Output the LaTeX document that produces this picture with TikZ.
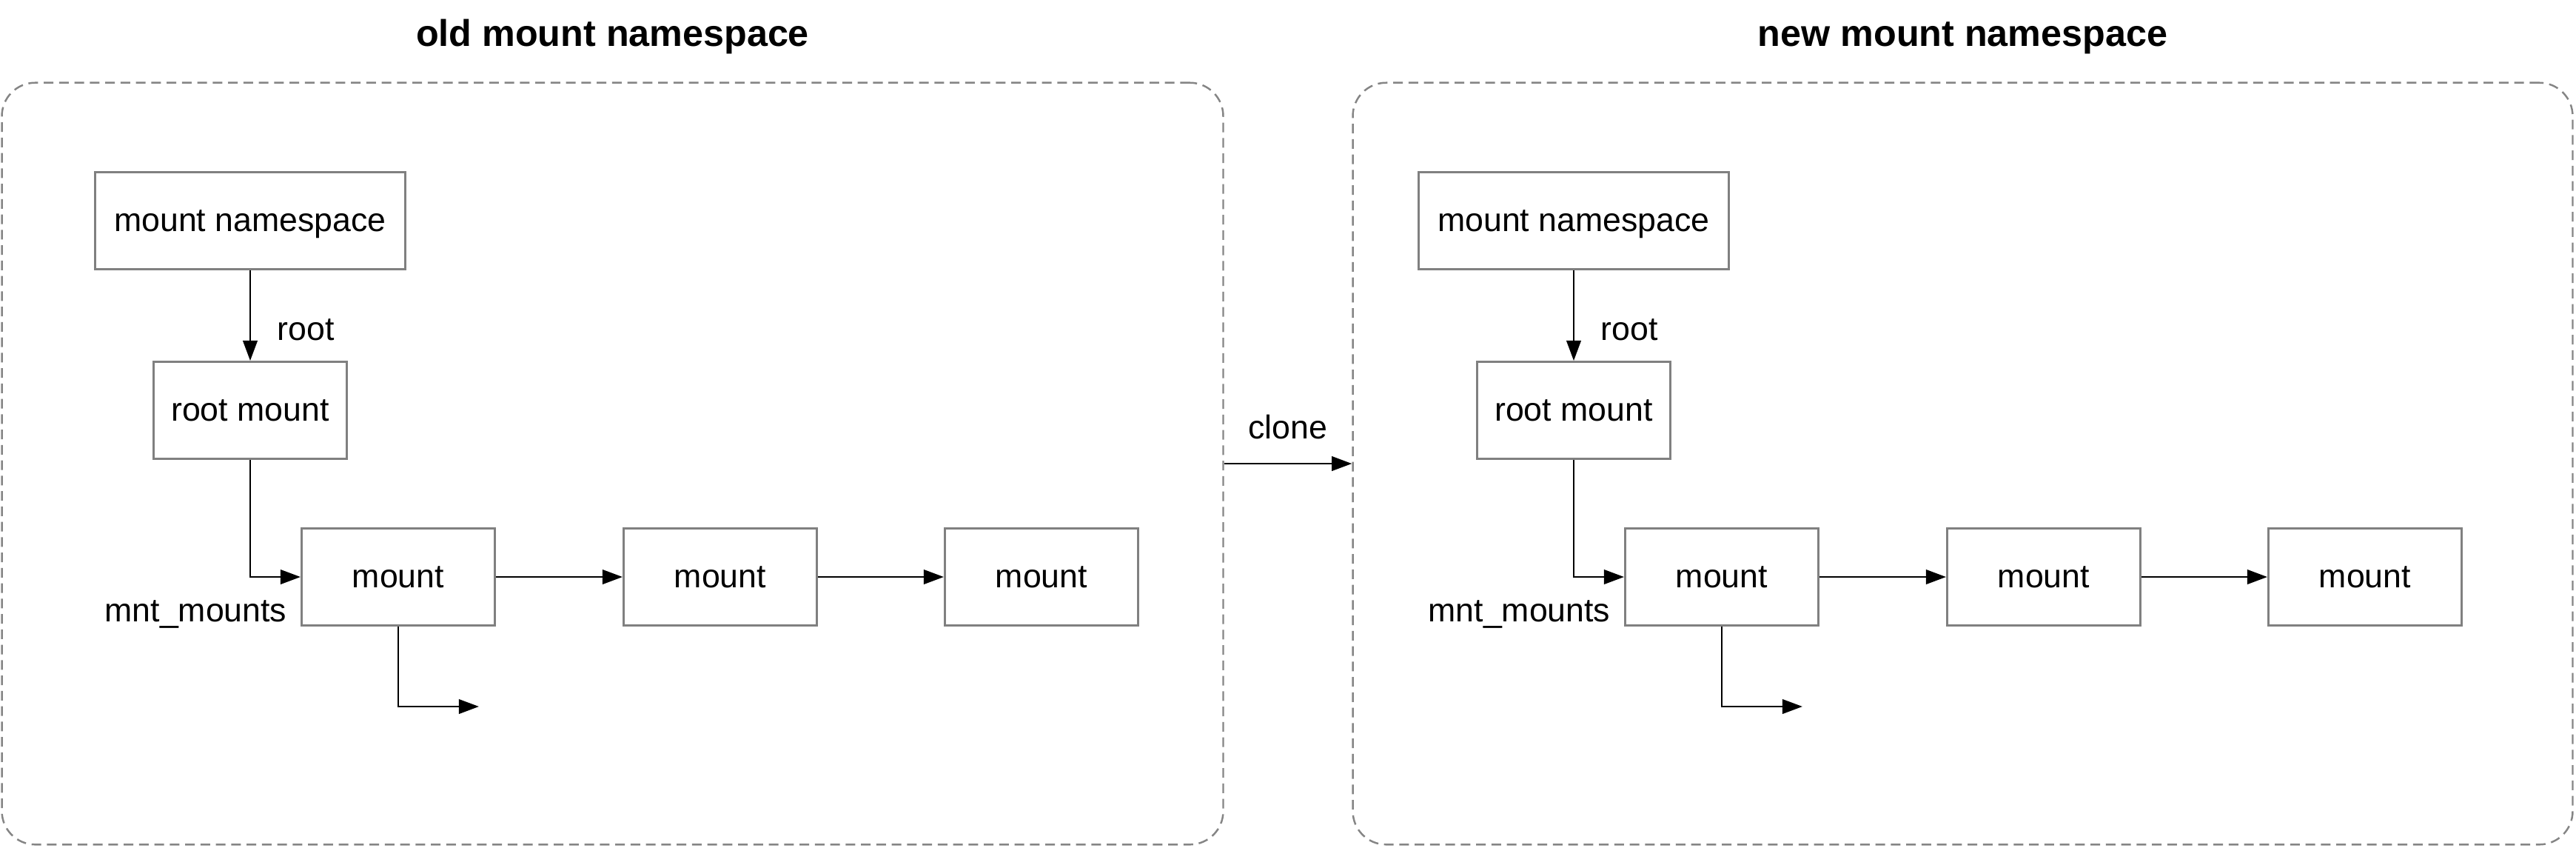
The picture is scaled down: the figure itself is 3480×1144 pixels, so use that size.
\documentclass[tikz,border=0pt]{standalone}
\usepackage{fontspec}
\setmainfont{Liberation Sans}
\usetikzlibrary{arrows.meta}
\definecolor{boxgray}{HTML}{808080}
\definecolor{framegray}{HTML}{858585}
\begin{document}
\begin{tikzpicture}[x=0.01cm,y=-0.01cm,
  box/.style={draw=boxgray, line width=0.8pt, fill=white, minimum height=1.31cm, inner sep=0pt, text depth=0pt, font=\fontsize{12.7}{15}\selectfont},
  lbl/.style={font=\fontsize{12.7}{15}\selectfont, inner sep=0pt},
  ttl/.style={font=\fontsize{14.3}{17}\selectfont\bfseries, inner sep=0pt, anchor=base},
  frame/.style={draw=framegray, line width=0.7pt, dash pattern=on 3.7pt off 2.2pt, rounded corners=0.45cm, inner sep=0pt},
  arr/.style={-{Triangle[length=7.7pt,width=5.5pt]}, line width=0.8pt}
]
\useasboundingbox (0,0) rectangle (3480,1144);

% frames
\node[frame, minimum width=16.49cm, minimum height=10.28cm] (oldns) at (827.5,626) {};
\node[frame, minimum width=16.47cm, minimum height=10.28cm] (newns) at (2651.5,626) {};

% titles
\node[ttl] (t1) at (827.5,62) {old mount namespace};
\node[ttl] (t2) at (2651.5,62) {new mount namespace};

% clone
\draw[arr] (oldns.east) -- (newns.west);
\node[lbl, anchor=base] (clonelbl) at (1740,592) {clone};

\foreach \s/\o in {0/1,1788/2}{
  \node[box, minimum width=4.19cm] (ns\o) at ({338+\s},298) {mount namespace};
  \node[box, minimum width=2.61cm] (rm\o) at ({338+\s},554) {root mount};
  \node[box, minimum width=2.61cm] (ma\o) at ({538+\s},779) {mount};
  \node[box, minimum width=2.61cm] (mb\o) at ({973+\s},779) {mount};
  \node[box, minimum width=2.61cm] (mc\o) at ({1407+\s},779) {mount};
  \coordinate (end\o) at ({647+\s},954);
  \node[lbl, anchor=base] (root\o) at ({413+\s},459) {root};
  \node[lbl, anchor=base east] (mnt\o) at ({388+\s},839) {mnt\_mounts};
  \draw[arr] (ns\o) -- (rm\o);
  \draw[arr] (rm\o.south) |- (ma\o.west);
  \draw[arr] (ma\o.south) |- (end\o);
  \draw[arr] (ma\o) -- (mb\o);
  \draw[arr] (mb\o) -- (mc\o);
}
\end{tikzpicture}
\end{document}
